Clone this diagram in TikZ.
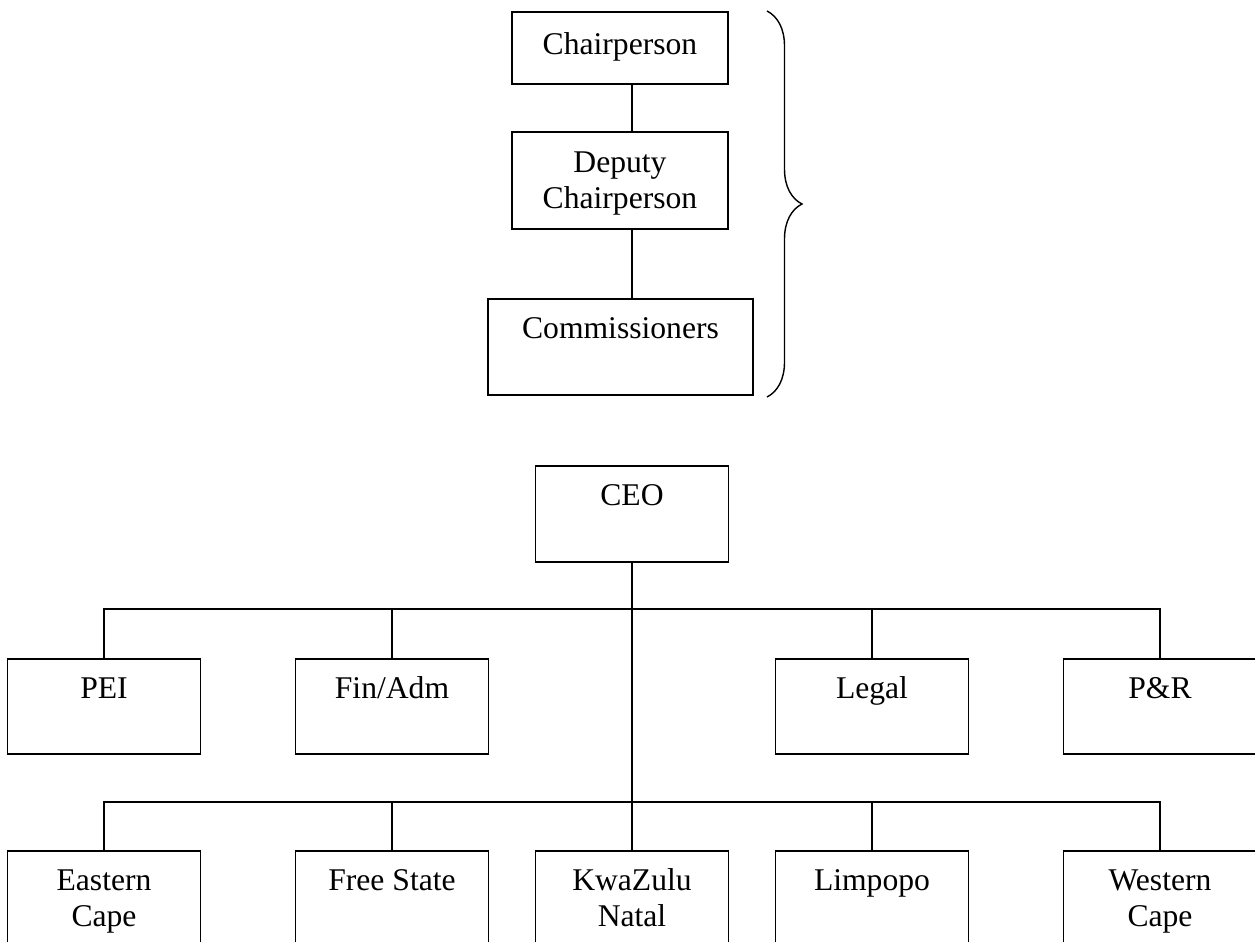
\documentclass[tikz,border=0pt]{standalone}
\usepackage{fontspec}
\setmainfont{Liberation Serif}
\usetikzlibrary{decorations.pathreplacing}

\begin{document}
\begin{tikzpicture}[x=0.02cm,y=-0.02cm,line width=1pt,
    unit/.style={draw,align=center,inner sep=0pt,anchor=north,
      minimum width=3.86cm,minimum height=1.9cm,
      font=\fontsize{18}{20.4}\selectfont,
      text height=36.3pt,text depth=4.6pt}]
  \useasboundingbox (0,0) rectangle (1255,941);
  \clip (0,0) rectangle (1255,941);

  % commission
  \node[unit,minimum width=4.32cm,minimum height=1.44cm,text height=12pt,text depth=4pt] (chair) at (620,11) {Chairperson};
  \node[unit,minimum width=4.32cm,minimum height=1.94cm] (deputy) at (620,131) {Deputy\\Chairperson};
  \node[unit,minimum width=5.3cm,minimum height=1.92cm] (comm) at (620.5,298) {Commissioners\\~};
  \coordinate (spine) at (632,0);
  \draw (chair.south -| spine) -- (deputy.north -| spine);
  \draw (deputy.south -| spine) -- (comm.north -| spine);
  \coordinate (btop) at (767,11);
  \coordinate (bbot) at (767,397);
  \draw[line width=0.8pt,decorate,decoration={brace,amplitude=0.7cm}] (btop) -- (bbot);

  % secretariat
  \node[unit,minimum height=1.92cm] (ceo) at (632,465) {CEO\\~};
  \node[unit] (pei) at (104,658) {PEI\\~};
  \node[unit] (fin) at (392,658) {Fin/Adm\\~};
  \node[unit] (legal) at (872,658) {Legal\\~};
  \node[unit] (pr) at (1160,658) {P\&R\\~};
  \node[unit] (ec) at (104,850) {Eastern\\Cape};
  \node[unit] (fs) at (392,850) {Free State\\~};
  \node[unit] (kzn) at (632,850) {KwaZulu\\Natal};
  \node[unit] (lim) at (872,850) {Limpopo\\~};
  \node[unit] (wc) at (1160,850) {Western\\Cape};

  \coordinate (bus1) at (0,609);
  \coordinate (bus2) at (0,802);
  \draw (ceo.south) -- (kzn.north);
  \draw (pei.north) -- (pei.north |- bus1) -- (pr.north |- bus1) -- (pr.north);
  \draw (ec.north) -- (ec.north |- bus2) -- (wc.north |- bus2) -- (wc.north);
  \foreach \n in {fin,legal}
    \draw (\n.north) -- (\n.north |- bus1);
  \foreach \n in {fs,lim}
    \draw (\n.north) -- (\n.north |- bus2);
\end{tikzpicture}
\end{document}
